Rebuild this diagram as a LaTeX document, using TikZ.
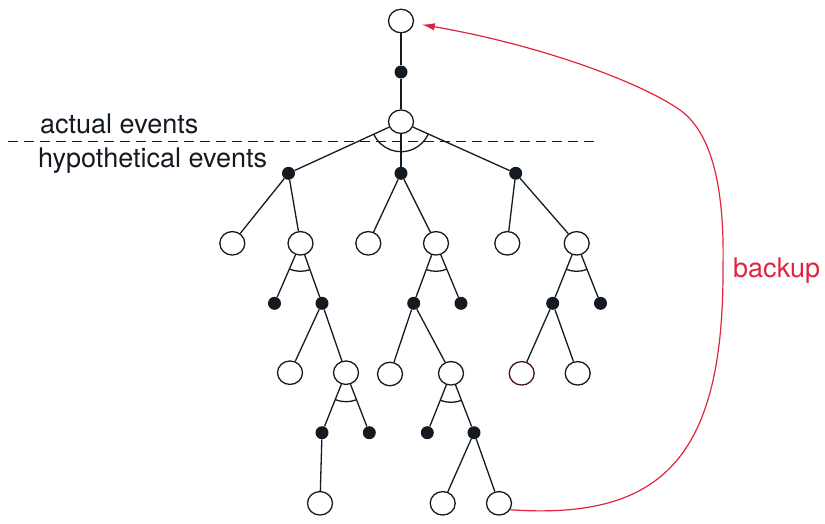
\documentclass[tikz,border=0pt]{standalone}
\usepackage{fontspec}
\setmainfont{TeX Gyre Heros}
\usetikzlibrary{shapes.geometric,calc,arrows.meta}
\definecolor{ink}{HTML}{141A22}
\definecolor{redc}{HTML}{E0243F}
\definecolor{darkred}{HTML}{4A1020}
\newcommand\andarc[4]{\draw[edge] let \p1=($(#2)-(#1)$), \p2=($(#3)-(#1)$), \n1={atan2(\y1,\x1)}, \n2={atan2(\y2,\x2)} in ($(#1)+(\n1:#4pt)$) arc[start angle=\n1, end angle=\n2, radius=#4pt];}
\begin{document}
\begin{tikzpicture}[x=1pt,y=-1pt,
 state/.style={ellipse, draw=ink, line width=1.3pt, minimum width=25pt, minimum height=23.5pt, inner sep=0pt, fill=white},
 chance/.style={circle, fill=ink, minimum size=13pt, inner sep=0pt},
 edge/.style={draw=ink, line width=1.3pt},
 lbl/.style={font=\fontsize{27}{32}\selectfont, inner sep=0pt, anchor=base west, text=ink}]
\useasboundingbox (0,0) rectangle (825,523);
% dashed separator
\coordinate (dl) at (8,141);
\coordinate (dr) at (597,141);
\draw[ink, line width=1pt, dash pattern=on 10pt off 6pt] (dl) -- (dr);
\node[lbl] (actual) at (40,133) {actual events};
\node[lbl] (hypo) at (38,167) {hypothetical events};
% nodes
\node[state] (s0) at (401,21) {};
\node[chance] (d0) at (401,72) {};
\node[state] (s1) at (401,121.7) {};
\node[chance] (d1a) at (288.5,173.3) {};
\node[chance] (d1b) at (401,173.3) {};
\node[chance] (d1c) at (515.7,173.3) {};
\node[state] (s2a) at (232.3,243.3) {};
\node[state] (s2b) at (300.5,243.3) {};
\node[state] (s2c) at (368.3,243.3) {};
\node[state] (s2d) at (436,243.3) {};
\node[state] (s2e) at (507.3,243.3) {};
\node[state] (s2f) at (576.7,243.3) {};
\node[chance] (d3a) at (274.5,303.3) {};
\node[chance] (d3b) at (322,303.3) {};
\node[chance] (d3c) at (413.7,303.3) {};
\node[chance] (d3d) at (461,303.3) {};
\node[chance] (d3e) at (552.7,303.3) {};
\node[chance] (d3f) at (600.5,303.3) {};
\node[state] (s4a) at (290,372.7) {};
\node[state] (s4b) at (346,372.7) {};
\node[state] (s4c) at (390,374) {};
\node[state] (s4d) at (451,373.3) {};
\node[state, draw=darkred] (s4e) at (521.7,373.3) {};
\node[state] (s4f) at (577.7,373.3) {};
\node[chance] (d5a) at (322,432.7) {};
\node[chance] (d5b) at (369.3,432.7) {};
\node[chance] (d5c) at (427.3,432.7) {};
\node[chance] (d5d) at (474,432.7) {};
\node[state] (s6a) at (320,503.3) {};
\node[state] (s6b) at (442.7,503.3) {};
\node[state] (s6c) at (499,503.3) {};
% edges
\draw[edge] (s0) -- (d0);
\draw[edge] (d0) -- (s1);
\foreach \a/\b in {s1/d1a,s1/d1b,s1/d1c,d1a/s2a,d1a/s2b,d1b/s2c,d1b/s2d,d1c/s2e,d1c/s2f,
  s2b/d3a,s2b/d3b,s2d/d3c,s2d/d3d,s2f/d3e,s2f/d3f,d3b/s4a,d3b/s4b,d3c/s4c,d3c/s4d,d3e/s4e,d3e/s4f,
  s4b/d5a,s4b/d5b,s4d/d5c,s4d/d5d,d5a/s6a,d5d/s6b,d5d/s6c}
  \draw[edge] (\a) -- (\b);
% and-arcs
\andarc{s1}{d1a}{d1c}{30}
\andarc{s2b}{d3a}{d3b}{28}
\andarc{s2d}{d3c}{d3d}{28}
\andarc{s2f}{d3e}{d3f}{28}
\andarc{s4b}{d5a}{d5b}{29}
\andarc{s4d}{d5c}{d5d}{29}
% backup arrow
\draw[redc, line width=1.2pt, -{Latex[length=13pt,width=7.5pt]}, shorten >=8pt]
  (s6c.-30) .. controls (660,520) and (724,460) .. (723,267)
  .. controls (725,170) and (705,128) .. (680,110)
  .. controls (640,82) and (540,45) .. (s0);
\node[lbl, text=redc] (backup) at (733,277) {backup};
\end{tikzpicture}
\end{document}
